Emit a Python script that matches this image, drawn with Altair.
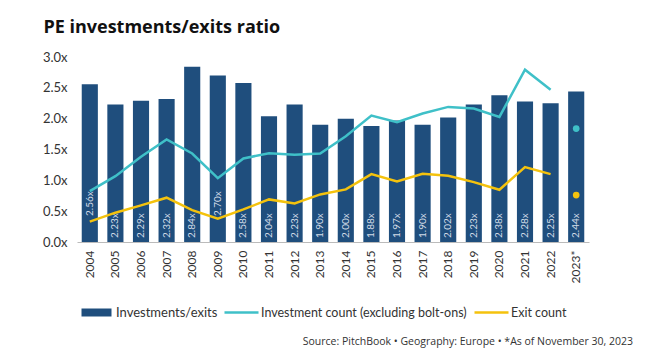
import altair as alt
import pandas as pd

years = [str(y) for y in range(2004, 2023)] + ["2023*"]
ratio = [2.56, 2.23, 2.29, 2.32, 2.84, 2.70, 2.58, 2.04, 2.23, 1.90,
         2.00, 1.88, 1.97, 1.90, 2.02, 2.23, 2.38, 2.28, 2.25, 2.44]
ratio_labels = ["2.56x", "2.23x", "2.29x", "2.32x", "2.84x", "2.70x", "2.58x", "2.04x",
                "2.23x", "1.90x", "2.00x", "1.88x", "1.97x", "1.90x", "2.02x", "2.23x",
                "2.38x", "2.28x", "2.25x", "2.44x"]
inv_count = [1100, 1424, 1842, 2216, 1914, 1381, 1806, 1920, 1886, 1914,
             2287, 2733, 2589, 2777, 2921, 2885, 2705, 3726, 3294]
exit_count = [440, 634, 792, 958, 690, 505, 705, 921, 835, 1029,
              1137, 1467, 1309, 1475, 1432, 1294, 1130, 1618, 1467]
inv_2023 = 2453
exit_2023 = 1014
raised_label_years = ["2004", "2009"]

FONT = "Lato"
NAVY = "#1F4E7D"
TEAL = "#3FC0C8"
GOLD = "#F4C20D"

bars_df = pd.DataFrame({"year": years, "ratio": ratio, "label": ratio_labels,
                        "series": "Investments/exits"})
bars_df["raised"] = bars_df["year"].isin(raised_label_years)

lines_df = pd.concat([
    pd.DataFrame({"year": years[:-1], "count": inv_count,
                  "series": "Investment count (excluding bolt-ons)"}),
    pd.DataFrame({"year": years[:-1], "count": exit_count, "series": "Exit count"}),
])
dots_df = pd.DataFrame({"year": [years[-1], years[-1]], "count": [inv_2023, exit_2023],
                        "series": ["Investment count (excluding bolt-ons)", "Exit count"]})

W, H = 512, 185

xenc = alt.X("year:N", sort=years, title=None,
             scale=alt.Scale(paddingInner=0.37, paddingOuter=0.185),
             axis=alt.Axis(labelAngle=270, labelFont=FONT, labelFontSize=12,
                           labelColor="#333333", ticks=False, domainColor="#BBBBBB",
                           labelPadding=8, labelAlign="right", labelBaseline="middle"))

yleft = alt.Scale(domain=[0, 3])
bars = alt.Chart(bars_df).mark_bar(color=NAVY).encode(
    x=xenc,
    y=alt.Y("ratio:Q", scale=yleft, title=None,
            axis=alt.Axis(values=[0, 0.5, 1, 1.5, 2, 2.5, 3],
                          labelExpr="format(datum.value, '.1f') + 'x'",
                          labelFont=FONT, labelFontSize=13, labelColor="#333333",
                          ticks=False, domain=False, grid=False, labelPadding=10)),
    fill=alt.Fill("series:N", scale=alt.Scale(domain=["Investments/exits"], range=[NAVY]),
                  legend=alt.Legend(title=None, orient="none", legendX=13, legendY=249,
                                    symbolType="M-3,-0.8H3V0.8H-3Z", symbolSize=100,
                                    symbolStrokeWidth=0, labelFont=FONT, labelFontSize=13,
                                    labelColor="#333333", labelOffset=13, labelLimit=0)),
)

lab_common = dict(angle=270, align="left", baseline="middle", font=FONT,
                  fontSize=10, color="#D3DDE8")
labels_low = alt.Chart(bars_df).transform_filter("!datum.raised").mark_text(**lab_common).encode(
    x=alt.X("year:N", sort=years), y=alt.value(H - 4), text="label:N")
labels_high = alt.Chart(bars_df).transform_filter("datum.raised").mark_text(**lab_common).encode(
    x=alt.X("year:N", sort=years), y=alt.value(H - 26), text="label:N")

left = alt.layer(bars, labels_low, labels_high)

yright = alt.Scale(domain=[0, 4000])
stroke_scale = alt.Scale(domain=["Investment count (excluding bolt-ons)", "Exit count"],
                         range=[TEAL, GOLD])
lines = alt.Chart(lines_df).mark_line(strokeWidth=2.5).encode(
    x=alt.X("year:N", sort=years),
    y=alt.Y("count:Q", scale=yright, title=None,
            axis=alt.Axis(orient="right", values=list(range(0, 4001, 500)), format=",",
                          labelFont=FONT, labelFontSize=13, labelColor="#333333",
                          ticks=False, domain=False, grid=False, labelPadding=10)),
    stroke=alt.Stroke("series:N", scale=stroke_scale,
                      legend=alt.Legend(title=None, orient="none", legendX=158, legendY=249,
                                        direction="horizontal", symbolType="M-3.4,0H3.4",
                                        symbolSize=100, symbolStrokeWidth=2.5,
                                        labelFont=FONT, labelFontSize=12.5, labelColor="#333333",
                                        labelOffset=13, columnPadding=2, labelLimit=0)),
)
dots = alt.Chart(dots_df).mark_circle(size=45, opacity=1).encode(
    x=alt.X("year:N", sort=years),
    y=alt.Y("count:Q", scale=yright, axis=None),
    color=alt.Color("series:N", scale=alt.Scale(domain=stroke_scale.domain, range=[TEAL, GOLD]),
                    legend=None),
)
source = alt.Chart(pd.DataFrame({"t": ["Source: PitchBook  \u2022  Geography: Europe  \u2022  *As of November 30, 2023"]})).mark_text(
    align="right", baseline="alphabetic", font="Open Sans", fontSize=10.5, color="#333333"
).encode(x=alt.value(556), y=alt.value(288), text="t:N")

right = alt.layer(lines, dots, source)

chart = alt.layer(left, right).resolve_scale(y="independent", fill="independent",
                                             stroke="independent").properties(
    width=W, height=H,
    title=alt.TitleParams("PE investments/exits ratio", anchor="start", dx=1,
                          font="Open Sans", fontSize=18, fontWeight="bold", color="#111111",
                          offset=14),
    autosize=alt.AutoSizeParams(type="none"),
    padding={"left": 69, "top": 49, "right": 67, "bottom": 108},
).configure_view(stroke=None)

chart.save("out.html", embed_options={"renderer": "svg", "actions": False})
